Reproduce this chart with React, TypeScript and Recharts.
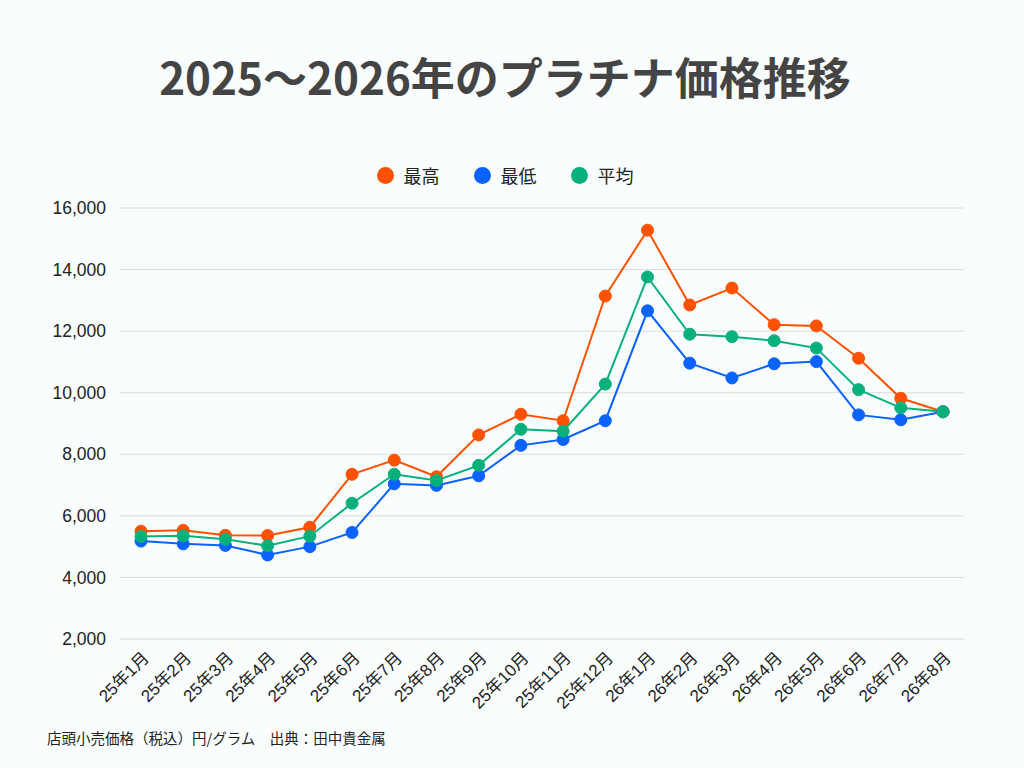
import { LineChart, Line, XAxis, YAxis, CartesianGrid, Legend } from 'recharts'

// 月ラベル
const months = [
  '25年1月', '25年2月', '25年3月', '25年4月', '25年5月', '25年6月',
  '25年7月', '25年8月', '25年9月', '25年10月', '25年11月', '25年12月',
  '26年1月', '26年2月', '26年3月', '26年4月', '26年5月', '26年6月',
  '26年7月', '26年8月',
]

// 店頭小売価格（円/グラム）
const highs = [
  5500, 5530, 5370, 5360, 5630, 7350, 7810, 7270, 8630, 9300,
  9090, 13140, 15280, 12850, 13400, 12210, 12170, 11120, 9820, 9380,
]
const lows = [
  5180, 5090, 5040, 4730, 5000, 5460, 7040, 6990, 7300, 8290,
  8480, 9090, 12660, 10960, 10480, 10940, 11010, 9280, 9120, 9380,
]
const avgs = [
  5330, 5350, 5240, 5030, 5340, 6410, 7350, 7150, 7640, 8810,
  8750, 10280, 13760, 11900, 11820, 11690, 11450, 10100, 9510, 9380,
]

const yTicks = [2000, 4000, 6000, 8000, 10000, 12000, 14000, 16000]

const series = [
  { key: '最高', values: highs, color: '#ff5200' },
  { key: '最低', values: lows, color: '#0a62ff' },
  { key: '平均', values: avgs, color: '#08b07c' },
]

const data = months.map((month, i) => {
  const row: { [k: string]: string | number } = { month }
  series.forEach((s) => {
    row[s.key] = s.values[i]
  })
  return row
})

const tickFont = "'Liberation Sans', 'Noto Sans CJK JP', sans-serif"
const jpFont = "'Noto Sans CJK JP', sans-serif"

const MonthTick = ({ x, y, payload }: any) => (
  <g transform={`translate(${x + 9},${y + 12})`}>
    <text
      x={0}
      y={0}
      textAnchor="end"
      transform="rotate(-45)"
      fontSize={17}
      fill="#222"
      fontFamily={tickFont}
    >
      {payload.value}
    </text>
  </g>
)

// 凡例は series の順番どおりに並べる
const LegendContent = () => (
  <div style={{ display: 'flex', justifyContent: 'center', gap: 34 }}>
    {series.map((s) => (
      <div key={s.key} style={{ display: 'flex', alignItems: 'center' }}>
        <span
          style={{
            width: 17,
            height: 17,
            borderRadius: '50%',
            background: s.color,
            marginRight: 10,
            display: 'inline-block',
          }}
        />
        <span style={{ fontSize: 18, color: '#222', fontFamily: jpFont }}>
          {s.key}
        </span>
      </div>
    ))}
  </div>
)

const App = () => {
  return (
    <div
      style={{
        position: 'absolute',
        top: 0,
        left: 0,
        width: 1024,
        height: 768,
        background: '#f9fdfd',
      }}
    >
      <div
        style={{
          position: 'absolute',
          top: 46,
          left: 0,
          width: 1010,
          textAlign: 'center',
          fontFamily: jpFont,
          fontWeight: 700,
          fontSize: 44,
          color: '#444',
          lineHeight: '60px',
        }}
      >
        2025〜2026年のプラチナ価格推移
      </div>
      <LineChart
        width={1024}
        height={768}
        data={data}
        margin={{ top: 208, right: 60, bottom: 69, left: 0 }}
      >
        <CartesianGrid vertical={false} stroke="#dcdcdc" />
        <XAxis
          dataKey="month"
          interval={0}
          axisLine={false}
          tickLine={false}
          height={60}
          padding={{ left: 21, right: 21 }}
          tick={<MonthTick />}
        />
        <YAxis
          domain={[2000, 16000]}
          ticks={yTicks}
          width={120}
          axisLine={false}
          tickLine={false}
          tickMargin={8}
          tickFormatter={(v) => v.toLocaleString()}
          tick={{ fontSize: 17.5, fill: '#222', fontFamily: tickFont }}
        />
        <Legend
          verticalAlign="middle"
          wrapperStyle={{ top: 162, left: 0, width: 1010 }}
          content={<LegendContent />}
        />
        {series.map((s) => (
          <Line
            key={s.key}
            type="linear"
            dataKey={s.key}
            stroke={s.color}
            strokeWidth={2}
            dot={{ r: 6, fill: s.color, stroke: s.color, strokeWidth: 1 }}
            isAnimationActive={false}
          />
        ))}
      </LineChart>
      <div
        style={{
          position: 'absolute',
          top: 728,
          left: 47,
          fontSize: 14.5,
          color: '#222',
          fontFamily: jpFont,
          lineHeight: '20px',
        }}
      >
        店頭小売価格（税込）円/グラム　出典：田中貴金属
      </div>
    </div>
  )
}

export default App
